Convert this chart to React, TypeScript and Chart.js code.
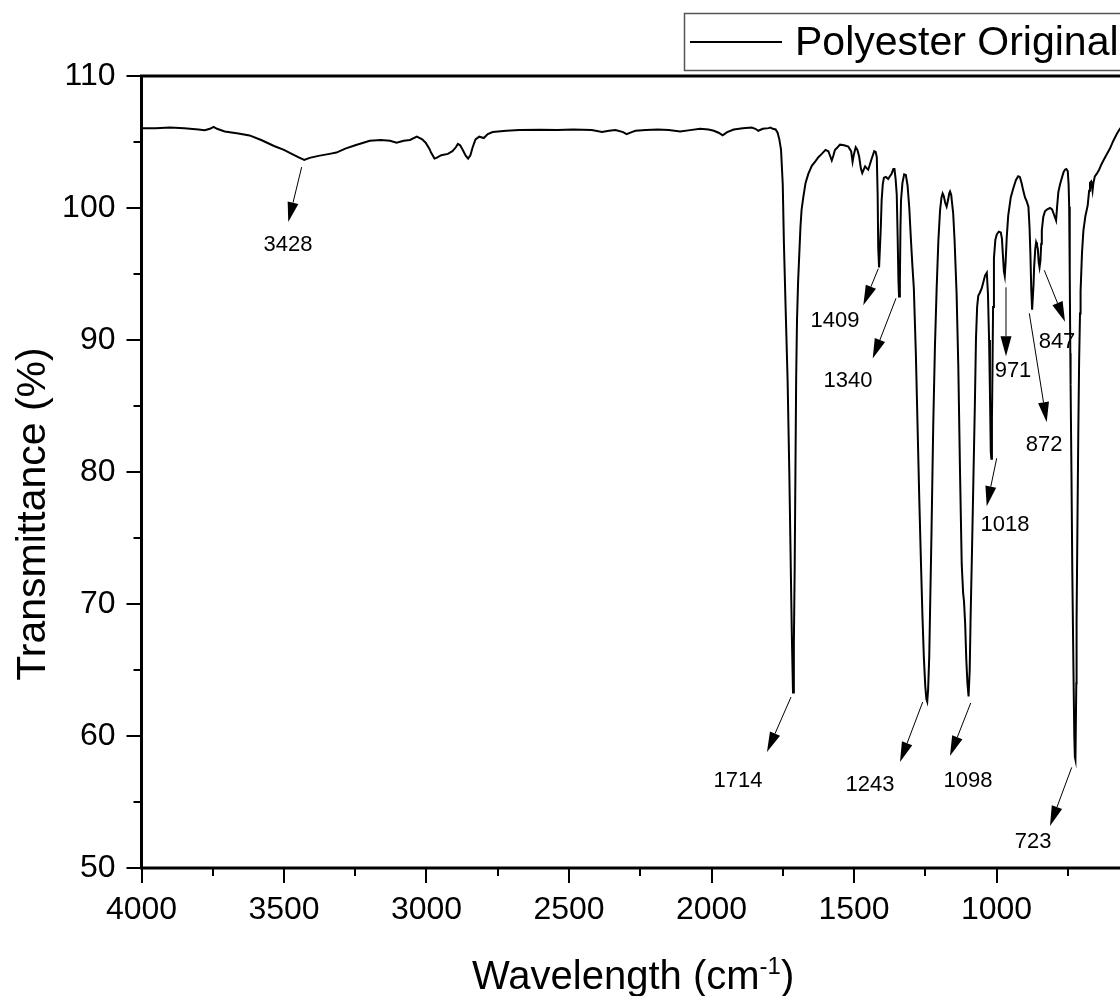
import React, { useEffect, useRef } from "react";
import { Chart, registerables } from "chart.js";

Chart.register(...registerables);

// ---- data ----
const wavenumbers = [
  4000, 3950, 3900, 3850, 3800, 3778, 3760, 3747, 3735, 3708, 3660, 3621, 3580, 3535, 3500, 3473, 3450, 3429, 3410, 3379,
  3340, 3316, 3285, 3250, 3199, 3160, 3128, 3105, 3080, 3058, 3034, 3015, 3003, 2990, 2984, 2972, 2965, 2948, 2925, 2909,
  2897, 2890, 2882, 2874, 2862, 2854, 2846, 2838, 2828, 2815, 2799, 2785, 2768, 2720, 2674, 2600, 2540, 2486, 2420, 2384,
  2360, 2337, 2310, 2298, 2280, 2267, 2230, 2188, 2150, 2110, 2075, 2040, 2010, 1992, 1975, 1961, 1945, 1922, 1890, 1859,
  1846, 1836, 1820, 1800, 1793, 1785, 1775, 1768, 1762, 1756, 1750, 1746, 1740, 1733, 1727, 1722, 1718, 1714, 1711, 1708,
  1703, 1700, 1696, 1692, 1688, 1684, 1678, 1670, 1660, 1648, 1635, 1625, 1613, 1600, 1590, 1583, 1578, 1572, 1567, 1560,
  1549, 1535, 1520, 1510, 1505, 1500, 1494, 1488, 1482, 1476, 1471, 1466, 1461, 1455, 1450, 1440, 1429, 1424, 1420, 1417,
  1415, 1412, 1409, 1406, 1403, 1399, 1395, 1388, 1380, 1374, 1368, 1362, 1358, 1354, 1350, 1347, 1344, 1342, 1339, 1337,
  1335, 1330, 1324, 1318, 1312, 1306, 1300, 1295, 1290, 1283, 1277, 1271, 1265, 1260, 1255, 1250, 1246, 1243, 1240, 1236,
  1233, 1228, 1222, 1216, 1210, 1204, 1198, 1193, 1189, 1185, 1180, 1175, 1170, 1166, 1163, 1159, 1155, 1152, 1147, 1140,
  1134, 1128, 1122, 1117, 1114, 1110, 1106, 1102, 1098, 1094, 1091, 1086, 1081, 1076, 1072, 1068, 1064, 1058, 1052, 1046,
  1040, 1034, 1030, 1026, 1023, 1020, 1018, 1016, 1014, 1012, 1009, 1004, 999, 992, 985, 981, 978, 974, 971, 968,
  964, 959, 950, 941, 932, 924, 918, 912, 906, 900, 894, 888, 884, 881, 878, 875, 872, 870, 868, 864,
  861, 858, 855, 852, 849, 846, 843, 841, 836, 830, 822, 812, 805, 800, 795, 791, 787, 783, 777, 771,
  765, 760, 755, 750, 747, 745, 743, 741, 740, 737, 734, 730, 727, 725, 723, 720, 719, 716, 713, 710,
  707, 705, 700, 695, 688, 680, 675, 672, 668, 665, 663, 660, 655, 648, 640, 632, 625, 615, 602, 590,
  578, 567, 555,
];

const transmittance = [
  106.05, 106.05, 106.1, 106.05, 105.95, 105.9, 106.0, 106.15, 106.0, 105.8, 105.65, 105.5, 105.15, 104.7, 104.4, 104.1, 103.85, 103.65, 103.8, 103.95,
  104.1, 104.2, 104.5, 104.75, 105.1, 105.15, 105.1, 104.95, 105.1, 105.15, 105.4, 105.2, 104.95, 104.5, 104.2, 103.75, 103.8, 104.0, 104.1, 104.3,
  104.6, 104.85, 104.75, 104.45, 103.95, 103.75, 104.0, 104.6, 105.2, 105.4, 105.3, 105.6, 105.75, 105.85, 105.9, 105.92, 105.9, 105.95, 105.9, 105.75,
  105.85, 105.9, 105.75, 105.6, 105.75, 105.85, 105.9, 105.95, 105.9, 105.8, 105.9, 106.0, 105.95, 105.85, 105.7, 105.5, 105.75, 105.95, 106.05, 106.1,
  106.0, 105.85, 106.0, 106.05, 106.1, 106.0, 105.95, 105.7, 105.2, 104.4, 101.8, 97.4, 92.5, 87.0, 80.0, 73.0, 67.5, 63.3, 67.0, 73.0,
  87.0, 91.5, 94.5, 96.5, 98.5, 99.85, 100.8, 101.9, 102.6, 103.2, 103.55, 103.85, 104.1, 104.4, 104.3, 103.9, 103.6, 104.0, 104.4, 104.55,
  104.8, 104.75, 104.65, 104.3, 103.5, 104.1, 104.6, 104.4, 103.9, 103.0, 102.65, 102.9, 103.15, 103.0, 102.9, 103.6, 104.3, 104.25, 103.85, 101.0,
  97.0, 95.5, 95.5, 98.5, 100.6, 101.8, 102.3, 102.35, 102.2, 102.4, 102.6, 102.95, 102.95, 102.2, 101.0, 98.0, 94.5, 93.3, 94.5, 98.5,
  100.6, 101.9, 102.55, 102.5, 101.7, 100.0, 97.5, 95.6, 93.9, 89.0, 83.5, 78.0, 73.1, 69.2, 66.0, 63.8, 62.8, 62.6, 63.5, 66.0,
  69.6, 75.5, 83.5, 89.5, 93.9, 97.5, 99.85, 100.8, 101.1, 100.9, 100.4, 100.1, 100.6, 101.1, 101.25, 101.0, 100.2, 99.6, 97.5, 93.5,
  88.0, 80.0, 73.0, 70.8, 70.2, 68.5, 65.8, 64.0, 63.0, 65.0, 68.8, 74.0, 79.5, 85.0, 90.1, 92.5, 93.35, 93.6, 93.9, 94.4,
  94.9, 95.1, 93.5, 90.0, 86.0, 81.5, 81.0, 84.0, 88.0, 92.5, 96.2, 97.6, 98.0, 98.2, 98.15, 97.7, 96.6, 95.2, 94.85, 95.9,
  97.8, 99.4, 100.8, 101.5, 102.1, 102.4, 102.35, 101.9, 101.3, 100.8, 100.5, 100.1, 98.5, 96.5, 93.8, 92.3, 92.3, 94.2, 95.5, 96.9,
  97.4, 97.2, 96.9, 95.9, 95.5, 96.0, 97.3, 98.3, 99.3, 99.75, 99.9, 100.0, 99.9, 99.6, 99.3, 99.06, 100.2, 101.2, 101.8, 102.25,
  102.7, 102.9, 102.95, 102.8, 101.8, 100.1, 95.0, 89.0, 86.6, 80.0, 72.4, 65.0, 60.0, 58.4, 58.2, 64.0, 68.8, 76.0, 83.0, 88.5,
  92.0, 93.7, 96.6, 98.3, 99.4, 100.2, 101.3, 101.9, 102.0, 101.6, 101.3, 101.9, 102.4, 102.6, 102.9, 103.3, 103.6, 104.0, 104.5, 105.1,
  105.6, 106.0, 106.3,
];

const seriesName = "Polyester Original";
const xTickValues = [4000, 3500, 3000, 2500, 2000, 1500, 1000];
const xMinorTicks = [3750, 3250, 2750, 2250, 1750, 1250, 750];
const yTickValues = [50, 60, 70, 80, 90, 100, 110];
const yMinorTicks = [55, 65, 75, 85, 95, 105];
const xRange = [550, 4000];
const yRange = [50, 110];
const xTitle = "Wavelength (cm";
const xTitleSup = "-1";
const yTitle = "Transmittance (%)";

// peak annotations: label, arrow start (x,y), arrow tip (x,y), label anchor (x,y) in data units
const peakLabels = ["3428", "1714", "1409", "1340", "1243", "1098", "1018", "971", "872", "847", "723"];
const arrowFrom = [
  [3438, 103.1], [1721, 62.95], [1414.7, 95.4], [1352.6, 93.16], [1259, 62.57], [1090.5, 62.5],
  [999.3, 81.04], [966.7, 93.99], [884.9, 92.02], [832.3, 95.28], [736.1, 57.62],
];
const arrowTo = [
  [3485, 98.93], [1805.3, 58.79], [1467.4, 92.63], [1434.4, 88.59], [1338.6, 58.03], [1163.2, 58.49],
  [1034.4, 77.41], [966.7, 88.77], [823.9, 83.77], [759.6, 91.39], [812.3, 53.19],
];
const labelAt = [
  [3486, 97.17], [1907, 56.59], [1566.7, 91.42], [1521.1, 86.87], [1443.9, 56.29], [1100, 56.59],
  [970.2, 75.97], [942.1, 87.63], [833.3, 82.03], [787.7, 89.83], [871.9, 51.98],
];

const FONT = "'Liberation Sans', Arial, Helvetica, sans-serif";

const decorPlugin = {
  id: "decor",
  afterDraw(chart: any) {
    const ctx = chart.ctx as CanvasRenderingContext2D;
    const { left, right, top, bottom } = chart.chartArea;
    const xs = chart.scales.x;
    const ys = chart.scales.y;
    ctx.save();

    // axes frame
    ctx.strokeStyle = "#000";
    ctx.lineWidth = 3;
    ctx.beginPath();
    ctx.moveTo(left, top);
    ctx.lineTo(right, top);
    ctx.lineTo(right, bottom);
    ctx.lineTo(left, bottom);
    ctx.closePath();
    ctx.stroke();

    // ticks
    ctx.lineWidth = 2;
    ctx.beginPath();
    xTickValues.forEach((v) => {
      const p = Math.round(xs.getPixelForValue(v));
      ctx.moveTo(p, bottom);
      ctx.lineTo(p, bottom + 15);
    });
    xMinorTicks.forEach((v) => {
      const p = Math.round(xs.getPixelForValue(v));
      ctx.moveTo(p, bottom);
      ctx.lineTo(p, bottom + 8);
    });
    yTickValues.forEach((v) => {
      const p = Math.round(ys.getPixelForValue(v));
      ctx.moveTo(left, p);
      ctx.lineTo(left - 15, p);
    });
    yMinorTicks.forEach((v) => {
      const p = Math.round(ys.getPixelForValue(v));
      ctx.moveTo(left, p);
      ctx.lineTo(left - 8, p);
    });
    ctx.stroke();

    // annotations
    ctx.fillStyle = "#000";
    ctx.strokeStyle = "#000";
    ctx.lineWidth = 1;
    ctx.font = `22px ${FONT}`;
    ctx.textAlign = "center";
    ctx.textBaseline = "middle";
    peakLabels.forEach((lab, i) => {
      const x1 = xs.getPixelForValue(arrowFrom[i][0]);
      const y1 = ys.getPixelForValue(arrowFrom[i][1]);
      const x2 = xs.getPixelForValue(arrowTo[i][0]);
      const y2 = ys.getPixelForValue(arrowTo[i][1]);
      const ang = Math.atan2(y2 - y1, x2 - x1);
      const hl = 20;
      const hw = 5.5;
      const bx = x2 - hl * Math.cos(ang);
      const by = y2 - hl * Math.sin(ang);
      ctx.beginPath();
      ctx.moveTo(x1, y1);
      ctx.lineTo(bx, by);
      ctx.stroke();
      ctx.beginPath();
      ctx.moveTo(x2, y2);
      ctx.lineTo(bx + hw * Math.sin(ang), by - hw * Math.cos(ang));
      ctx.lineTo(bx - hw * Math.sin(ang), by + hw * Math.cos(ang));
      ctx.closePath();
      ctx.fill();
      ctx.fillText(lab, xs.getPixelForValue(labelAt[i][0]), ys.getPixelForValue(labelAt[i][1]));
    });

    // x title with superscript
    ctx.textAlign = "left";
    ctx.textBaseline = "alphabetic";
    const big = `40px ${FONT}`;
    const small = `24px ${FONT}`;
    ctx.font = big;
    const w1 = ctx.measureText(xTitle).width;
    const w3 = ctx.measureText(")").width;
    ctx.font = small;
    const w2 = ctx.measureText(xTitleSup).width;
    const total = w1 + w2 + w3;
    const cx = (left + xs.getPixelForValue(xRange[0])) / 2;
    let tx = cx - total / 2;
    const base = 989;
    ctx.font = big;
    ctx.fillText(xTitle, tx, base);
    tx += w1;
    ctx.font = small;
    ctx.fillText(xTitleSup, tx, base - 15);
    tx += w2;
    ctx.font = big;
    ctx.fillText(")", tx, base);

    // y title
    ctx.save();
    ctx.translate(45, 514);
    ctx.rotate(-Math.PI / 2);
    ctx.textAlign = "center";
    ctx.textBaseline = "alphabetic";
    ctx.font = `41px ${FONT}`;
    ctx.fillText(yTitle, 0, 0);
    ctx.restore();

    // legend
    ctx.fillStyle = "#fff";
    ctx.fillRect(684, 13, 520, 57);
    ctx.strokeStyle = "#555";
    ctx.lineWidth = 1.5;
    ctx.strokeRect(684.5, 13.5, 520, 57);
    ctx.strokeStyle = "#000";
    ctx.lineWidth = 2;
    ctx.beginPath();
    ctx.moveTo(690, 42);
    ctx.lineTo(782, 42);
    ctx.stroke();
    ctx.fillStyle = "#000";
    ctx.font = `41px ${FONT}`;
    ctx.textAlign = "left";
    ctx.fillText(seriesName, 795, 55);

    ctx.restore();
  },
};

export default function App() {
  const ref = useRef<HTMLCanvasElement | null>(null);
  useEffect(() => {
    if (!ref.current) return;
    const points = wavenumbers.map((w, i) => ({ x: w, y: transmittance[i] }));
    const chart = new Chart(ref.current, {
      type: "line",
      data: {
        datasets: [
          {
            label: seriesName,
            data: points,
            borderColor: "#000",
            borderWidth: 2,
            pointRadius: 0,
            tension: 0,
            fill: false,
          },
        ],
      },
      options: {
        responsive: false,
        animation: false,
        devicePixelRatio: 1,
        layout: { padding: { top: 76, right: 55.25, left: 0, bottom: 0 } },
        plugins: { legend: { display: false }, tooltip: { enabled: false } },
        scales: {
          x: {
            type: "linear",
            reverse: true,
            min: xRange[0],
            max: xRange[1],
            afterBuildTicks: (s: any) => {
              s.ticks = xTickValues.map((v) => ({ value: v }));
            },
            afterFit: (s: any) => {
              s.height = 128;
            },
            ticks: {
              color: "#000",
              font: { family: FONT, size: 32 },
              padding: 23,
              maxRotation: 0,
              autoSkip: false,
              callback: (v: any) => String(v),
            },
            grid: { display: false, drawTicks: false },
            border: { display: false },
          },
          y: {
            type: "linear",
            min: yRange[0],
            max: yRange[1],
            afterBuildTicks: (s: any) => {
              s.ticks = yTickValues.map((v) => ({ value: v }));
            },
            afterFit: (s: any) => {
              s.width = 141.5;
            },
            ticks: {
              color: "#000",
              font: { family: FONT, size: 32 },
              padding: 26,
              autoSkip: false,
              callback: (v: any) => String(v),
            },
            grid: { display: false, drawTicks: false },
            border: { display: false },
          },
        },
      },
      plugins: [decorPlugin],
    });
    return () => chart.destroy();
  }, []);

  return (
    <div
      style={{
        position: "absolute",
        left: 0,
        top: 0,
        width: 1120,
        height: 996,
        overflow: "hidden",
        background: "#fff",
      }}
    >
      <canvas ref={ref} width={1180} height={996} style={{ display: "block" }} />
    </div>
  );
}
